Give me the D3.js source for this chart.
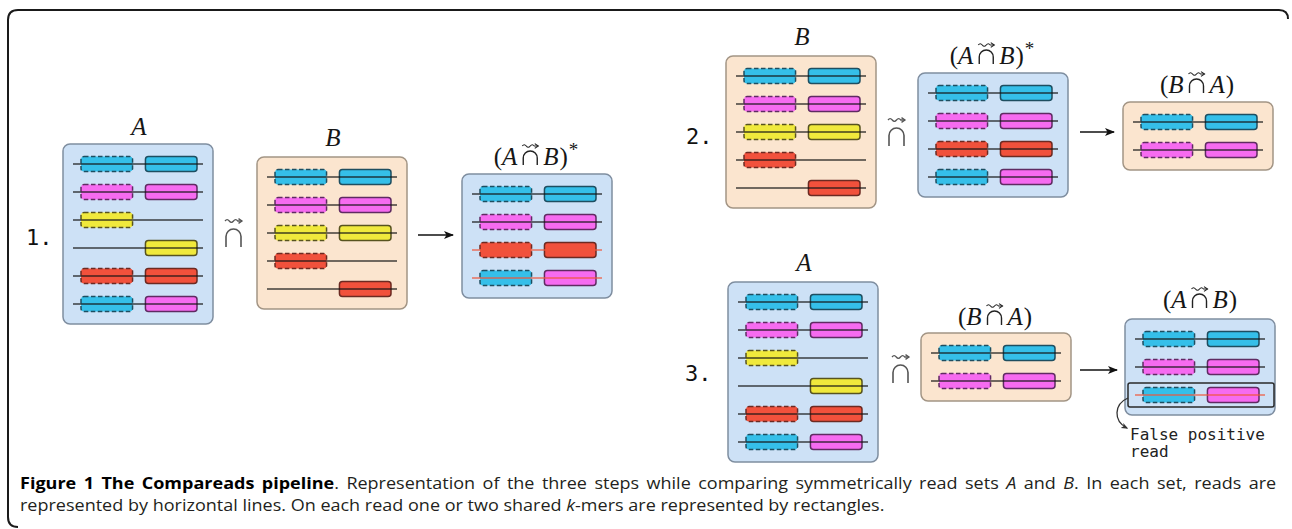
<!DOCTYPE html>
<html><head><meta charset="utf-8">
<script src="https://cdn.jsdelivr.net/npm/d3@7/dist/d3.min.js"></script>
<style>
html,body{margin:0;padding:0;background:#fff;}
svg{display:block;}
</style></head><body>
<svg id="fig" width="1292" height="529"></svg>
<script>
// ---------------- data ----------------
const kmerIds = ["k1", "k2", "k3", "k4"];            // shared k-mer identities
const readsA   = [["k1","k1"],["k2","k2"],["k3",null],[null,"k3"],["k4","k4"],["k1","k2"]];
const readsB   = [["k1","k1"],["k2","k2"],["k3","k3"],["k4",null],[null,"k4"]];
const readsAB  = [["k1","k1"],["k2","k2"],["k4","k4"],["k1","k2"]];
const falseAB1 = [false, false, true, true];
const falseAB2 = [false, false, false, false];
const readsBA  = [["k1","k1"],["k2","k2"]];
const readsAB3 = [["k1","k1"],["k2","k2"],["k1","k2"]];
const falseAB3 = [false, false, true];
const stepLabels = ["1.", "2.", "3."];
const calloutLines = ["False positive", "read"];

// ---------------- styles ----------------
const kmerFill   = d3.scaleOrdinal().domain(kmerIds).range(["#35bfe9", "#f66bf0", "#f0e93c", "#f1513c"]);
const kmerStroke = d3.scaleOrdinal().domain(kmerIds).range(["#1e4e60", "#5f2b62", "#57531f", "#6c2a22"]);
const panelFill   = {A: "#cde1f6", B: "#fbe5cf"};
const panelStroke = {A: "#7f8ea0", B: "#a39585"};

const svg = d3.select("#fig");

// outer frame
svg.append("path")
  .attr("d", "M18,527 Q8,527 8,517 L8,20 Q8,10 18,10 L1279,10 Q1288,10 1288,19")
  .attr("fill", "none").attr("stroke", "#1a1a1a").attr("stroke-width", 2);

// markers
const defs = svg.append("defs");
defs.append("marker").attr("id", "stealth").attr("viewBox", "0 0 10 10")
  .attr("refX", 9).attr("refY", 5).attr("markerWidth", 10).attr("markerHeight", 10)
  .attr("markerUnits", "userSpaceOnUse").attr("orient", "auto")
  .append("path").attr("d", "M0,1 L10,5 L0,9 L2.5,5 Z").attr("fill", "#111");
defs.append("marker").attr("id", "small").attr("viewBox", "0 0 10 10")
  .attr("refX", 8).attr("refY", 5).attr("markerWidth", 7).attr("markerHeight", 7)
  .attr("markerUnits", "userSpaceOnUse").attr("orient", "auto")
  .append("path").attr("d", "M0,1 L10,5 L0,9 L2.5,5 Z").attr("fill", "#333");

function drawPanel(p) {
  const n = p.reads.length;
  const h = 40 + 28 * (n - 1);
  const g = svg.append("g");
  g.append("rect").attr("x", p.x).attr("y", p.y).attr("width", 150).attr("height", h)
    .attr("rx", 7).attr("fill", panelFill[p.kind]).attr("stroke", panelStroke[p.kind]).attr("stroke-width", 1.5);
  const y = d3.scalePoint().domain(d3.range(n)).range([p.y + 20, p.y + h - 20]);
  const x = d3.scaleLinear().domain([0, 1]).range([p.x + 10, p.x + 140]);
  const slot = d3.scaleBand().domain([0, 1]).range([p.x + 18, p.x + 134]).paddingInner(0.2);
  const flags = p.flags || p.reads.map(() => false);
  const rows = g.selectAll("g.read").data(p.reads).join("g").attr("class", "read");
  rows.each(function (r, i) {
    const rg = d3.select(this);
    r.forEach((k, j) => {
      if (!k) return;
      rg.append("rect").attr("x", slot(j)).attr("y", y(i) - 7.5)
        .attr("width", slot.bandwidth()).attr("height", 15).attr("rx", 3)
        .attr("fill", kmerFill(k)).attr("stroke", kmerStroke(k)).attr("stroke-width", 1.5)
        .attr("stroke-dasharray", j === 0 ? "4.5 2.5" : null);
    });
    rg.append("line").attr("x1", x(0)).attr("x2", x(1)).attr("y1", y(i)).attr("y2", y(i))
      .attr("stroke", flags[i] ? "#f0553a" : "#151515").attr("stroke-width", 1.6)
      .attr("stroke-opacity", 0.8);
  });
  return {g, y, x, h};
}

function capSymbol(g, x, bottom, w, h, sw, gap, color) {
  const r = w / 2;
  g.append("path")
    .attr("d", `M${x},${bottom} L${x},${bottom - h + r} A${r},${r} 0 0 1 ${x + w},${bottom - h + r} L${x + w},${bottom}`)
    .attr("fill", "none").attr("stroke", color).attr("stroke-width", sw);
  const yw = bottom - h - gap;
  const s = (w + 2) / 4;
  g.append("path")
    .attr("d", `M${x - 1},${yw} q${s / 2},-2.6 ${s},0 t${s},0 t${s},0 l${s},0`)
    .attr("fill", "none").attr("stroke", color).attr("stroke-width", sw * 0.8);
  const xe = x - 1 + 4 * s;
  g.append("path")
    .attr("d", `M${xe - 3.5},${yw - 2.4} L${xe},${yw} L${xe - 3.5},${yw + 2.4}`)
    .attr("fill", "none").attr("stroke", color).attr("stroke-width", sw * 0.8);
}

function mathLabel(cx, by, a, b, star) {
  const g = svg.append("g");
  let x = 0;
  const add = (s, italic, fs = 25, dy = 0) => {
    const t = g.append("text").attr("x", x).attr("y", by + dy).text(s)
      .style("font-family", "'Liberation Serif', serif").style("font-size", fs + "px")
      .style("font-style", italic ? "italic" : "normal").attr("fill", "#161616");
    x += t.node().getComputedTextLength();
  };
  if (b === undefined) {
    add(a, true);
  } else {
    add("(", false); add(a, true); x += 6;
    const cx0 = x; x += 14; x += 6;
    add(b, true); x += 1; add(")", false);
    if (star) { x += 1; add("*", false, 19, -9); }
    capSymbol(g, cx0, by, 14, 14, 1.4, 5, "#222");
  }
  g.attr("transform", `translate(${cx - x / 2},0)`);
}

function arrow(x1, x2, y) {
  svg.append("line").attr("x1", x1).attr("x2", x2).attr("y1", y).attr("y2", y)
    .attr("stroke", "#111").attr("stroke-width", 1.3).attr("marker-end", "url(#stealth)");
}

function stepNum(s, x, y) {
  svg.append("text").attr("x", x).attr("y", y).text(s)
    .style("font-family", "'DejaVu Sans Mono', monospace").style("font-size", "22px").attr("fill", "#111");
}

const bigCap = (x, bottom) => capSymbol(svg.append("g"), x, bottom, 15, 18, 1.6, 8, "#555");

// ---------------- step 1 ----------------
stepNum(stepLabels[0], 26, 245);
const p1A = {reads: readsA, x: 63, y: 144, kind: "A"};
drawPanel(p1A); mathLabel(p1A.x + 76, p1A.y - 9, "A");
bigCap(226, 247);
const p1B = {reads: readsB, x: 257, y: 157, kind: "B"};
drawPanel(p1B); mathLabel(p1B.x + 76, p1B.y - 11, "B");
arrow(418, 453, 235);
const p1R = {reads: readsAB, flags: falseAB1, x: 462, y: 174, kind: "A"};
drawPanel(p1R); mathLabel(p1R.x + 74, p1R.y - 9, "A", "B", true);

// ---------------- step 2 ----------------
stepNum(stepLabels[1], 686, 144);
const p2B = {reads: readsB, x: 726, y: 56, kind: "B"};
drawPanel(p2B); mathLabel(p2B.x + 76, p2B.y - 11, "B");
bigCap(889, 146);
const p2R = {reads: readsAB, flags: falseAB2, x: 918, y: 73, kind: "A"};
drawPanel(p2R); mathLabel(p2R.x + 74, p2R.y - 9, "A", "B", true);
arrow(1080, 1114, 132);
const p2S = {reads: readsBA, x: 1123, y: 102, kind: "B"};
drawPanel(p2S); mathLabel(p2S.x + 74, p2S.y - 9, "B", "A", false);

// ---------------- step 3 ----------------
stepNum(stepLabels[2], 685, 381);
const p3A = {reads: readsA, x: 728, y: 282, kind: "A"};
drawPanel(p3A); mathLabel(p3A.x + 76, p3A.y - 11, "A");
bigCap(893, 383);
const p3S = {reads: readsBA, x: 921, y: 333, kind: "B"};
drawPanel(p3S); mathLabel(p3S.x + 74, p3S.y - 8, "B", "A", false);
arrow(1080, 1117, 370);
const p3R = {reads: readsAB3, flags: falseAB3, x: 1125, y: 319, kind: "A"};
const d3R = drawPanel(p3R); mathLabel(p3R.x + 75, p3R.y - 11, "A", "B", false);
// highlight of the false positive read
const fpIdx = falseAB3.indexOf(true);
svg.append("rect").attr("x", p3R.x + 3).attr("y", d3R.y(fpIdx) - 12).attr("width", 146).attr("height", 24)
  .attr("rx", 2).attr("fill", "none").attr("stroke", "#2a2a2a").attr("stroke-width", 1.5);
svg.append("path").attr("d", `M${p3R.x + 3},${d3R.y(fpIdx) + 3} C1114,404 1113,421 1127,428`)
  .attr("fill", "none").attr("stroke", "#333").attr("stroke-width", 1.3).attr("marker-end", "url(#small)");
svg.selectAll("text.callout").data(calloutLines).join("text").attr("class", "callout")
  .attr("x", 1130).attr("y", (d, i) => 440 + i * 17).text(d => d)
  .style("font-family", "'DejaVu Sans Mono', monospace").style("font-size", "16px").attr("fill", "#222");

// ---------------- caption ----------------
const capFont = "'Open Sans', sans-serif";
const line1 = [
  {t: "Figure 1 The Compareads pipeline", b: true},
  {t: ". Representation of the three steps while comparing symmetrically read sets "},
  {t: "A", i: true}, {t: " and "}, {t: "B", i: true}, {t: ". In each set, reads are"}
];
const line2 = [
  {t: "represented by horizontal lines. On each read one or two shared "},
  {t: "k", i: true}, {t: "-mers are represented by rectangles."}
];
const capFs = 16.5;
function capLine(parts, y) {
  const g = svg.append("g");
  const t = g.append("text").attr("x", 0).attr("y", y)
    .style("font-family", capFont).style("font-size", capFs + "px").attr("fill", "#231f20");
  parts.forEach(p => {
    t.append("tspan").text(p.t)
      .style("font-weight", p.b ? "bold" : "normal")
      .style("font-style", p.i ? "italic" : "normal")
      .attr("fill", p.b ? "#000" : "#231f20");
  });
  return {g, t};
}
const L2 = capLine(line2, 511);
const sx = 865 / L2.t.node().getComputedTextLength();
L2.g.attr("transform", `translate(20,0) scale(${sx},1)`);
const L1 = capLine(line1, 489);
const w1 = L1.t.node().getComputedTextLength();
const nSpaces = line1.map(p => p.t).join("").split(" ").length - 1;
L1.t.style("word-spacing", (((1277 - 20) / sx - w1) / nSpaces) + "px");
L1.g.attr("transform", `translate(20,0) scale(${sx},1)`);
</script>
</body></html>
